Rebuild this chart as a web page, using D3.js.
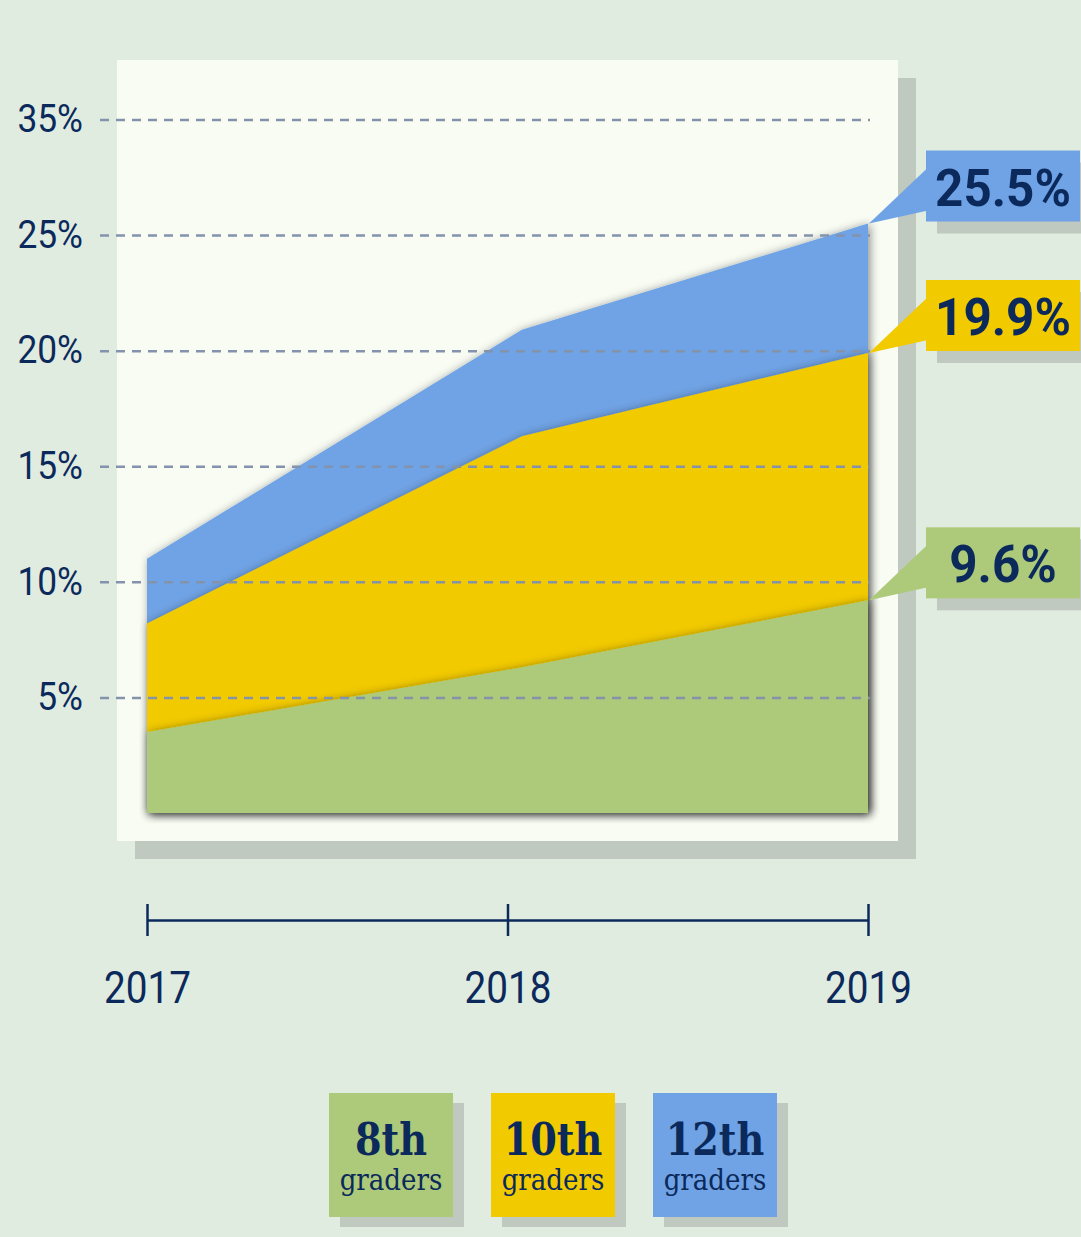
<!DOCTYPE html>
<html>
<head>
<meta charset="utf-8">
<script src="https://cdn.jsdelivr.net/npm/d3@7"></script>
<style>
  html, body { margin: 0; padding: 0; background: #e1ece1; }
  svg { display: block; }
</style>
</head>
<body>
<svg id="chart" width="1081" height="1237"></svg>
<script>
// Data
const years = [2017, 2018, 2019];
const pointYears = [2017, 2018.04, 2019];   // the middle vertex sits a touch right of the 2018 tick
const grades = ["8th", "10th", "12th"];
const eighth = [3.5, 6.3, 9.2];
const tenth = [8.2, 16.3, 19.9];
const twelfth = [11.0, 20.9, 25.5];
const calloutLabels = ["9.6%", "19.9%", "25.5%"];
const yTicks = [5, 10, 15, 20, 25, 30];
const yTickLabels = ["5%", "10%", "15%", "20%", "25%", "35%"];

const colors = ["#adc97a", "#f2ca00", "#6fa3e5"];
const navy = "#0b2a5b";
const shadowCol = "#bfc9bf";

let svg = d3.select("#chart");

// Scales
let x = d3.scaleLinear().domain([2017, 2019]).range([147, 868]);
let y = d3.scaleLinear().domain([0, 30]).range([813, 119.5]);

// Drop shadow for the areas
let defs = svg.append("defs");
let f = defs.append("filter").attr("id", "areaShadow")
    .attr("x", "-10%").attr("y", "-10%").attr("width", "120%").attr("height", "120%");
f.append("feDropShadow")
    .attr("dx", 2).attr("dy", 1)
    .attr("stdDeviation", 5)
    .attr("flood-color", "#000")
    .attr("flood-opacity", 0.45);

// Background panel and its shadow
svg.append("rect").attr("x", 135).attr("y", 78).attr("width", 781).attr("height", 781)
    .style("fill", shadowCol);
svg.append("rect").attr("x", 117).attr("y", 60).attr("width", 781).attr("height", 781)
    .style("fill", "#f8fcf3");

// Areas, drawn back to front
let series = [twelfth, tenth, eighth];
let seriesColors = [colors[2], colors[1], colors[0]];
let area = d3.area()
    .x(function(d, i) { return x(pointYears[i]); })
    .y0(y(0))
    .y1(function(d) { return y(d); });

svg.selectAll(".area")
    .data(series)
    .enter().append("path")
    .attr("class", "area")
    .attr("d", function(d) { return area(d); })
    .attr("filter", "url(#areaShadow)")
    .style("fill", function(d, i) { return seriesColors[i]; });

// Y gridlines + labels
let yAxis = d3.axisLeft(y)
    .tickValues(yTicks)
    .tickSize(-770)
    .tickPadding(17)
    .tickFormat(function(d, i) { return yTickLabels[i]; });

let yg = svg.append("g")
    .attr("transform", "translate(100,0)")
    .call(yAxis);
yg.select(".domain").remove();
yg.selectAll(".tick line")
    .style("stroke", "#8493ac")
    .style("stroke-width", 2.5)
    .style("stroke-dasharray", "9,7");
yg.selectAll(".tick text")
    .attr("x", 0)
    .attr("dy", "0.32em")
    .attr("transform", "translate(-17,0) scale(0.93,1)")
    .style("font-family", "Roboto, sans-serif")
    .style("font-size", "38px")
    .style("fill", navy);

// Bottom time axis
let xAxis = d3.axisBottom(x)
    .tickValues(years)
    .tickSizeInner(16)
    .tickSizeOuter(0)
    .tickFormat(d3.format("d"));

let xg = svg.append("g")
    .attr("transform", "translate(0,920)")
    .call(xAxis);
xg.select(".domain")
    .style("stroke", navy)
    .style("stroke-width", 2.5);
xg.selectAll(".tick line")
    .attr("y1", -16)
    .attr("y2", 16)
    .style("stroke", navy)
    .style("stroke-width", 2.5);
xg.selectAll(".tick text")
    .attr("y", 0)
    .attr("dy", 0)
    .attr("transform", "translate(0,83) scale(0.86,1)")
    .style("font-family", "Roboto, sans-serif")
    .style("font-size", "45px")
    .style("fill", navy);

// Callouts at the 2019 end
let boxX = 926, boxW = 154, boxH = 71;
let ends = [eighth, tenth, twelfth].map(function(s, i) {
    return { value: s[s.length - 1], label: calloutLabels[i], color: colors[i] };
});

let callouts = svg.selectAll(".callout")
    .data(ends)
    .enter().append("g")
    .attr("class", "callout");

callouts.append("rect")
    .attr("x", boxX + 11)
    .attr("y", function(d) { return y(d.value) - 73 + 12; })
    .attr("width", boxW)
    .attr("height", boxH)
    .style("fill", shadowCol);

callouts.append("polygon")
    .attr("points", function(d) {
        let tx = x(2019) + 1, ty = y(d.value);
        let top = ty - 73;
        return [[tx, ty], [boxX + 2, top + 17], [boxX + 2, top + 60]].join(" ");
    })
    .style("fill", function(d) { return d.color; });

callouts.append("rect")
    .attr("x", boxX)
    .attr("y", function(d) { return y(d.value) - 73; })
    .attr("width", boxW)
    .attr("height", boxH)
    .style("fill", function(d) { return d.color; });

callouts.append("text")
    .attr("transform", function(d) {
        return "translate(" + (boxX + boxW / 2) + "," + (y(d.value) - 73 + 55) + ") scale(0.95,1)";
    })
    .attr("text-anchor", "middle")
    .style("font-family", "Roboto, sans-serif")
    .style("font-weight", "bold")
    .style("font-size", "52px")
    .style("fill", navy)
    .text(function(d) { return d.label; });

// Legend
let legendX = d3.scalePoint().domain(grades).range([329, 653]);
let lg = svg.selectAll(".legend")
    .data(grades)
    .enter().append("g")
    .attr("class", "legend")
    .attr("transform", function(d) { return "translate(" + legendX(d) + ",1093)"; });

lg.append("rect")
    .attr("x", 11).attr("y", 10)
    .attr("width", 124).attr("height", 124)
    .style("fill", shadowCol);
lg.append("rect")
    .attr("x", 0).attr("y", 0)
    .attr("width", 124).attr("height", 124)
    .style("fill", function(d, i) { return colors[i]; });

lg.append("text")
    .attr("transform", "translate(62,62) scale(0.85,1)")
    .attr("text-anchor", "middle")
    .style("font-family", "'DejaVu Serif', serif")
    .style("font-weight", "bold")
    .style("font-size", "45px")
    .style("fill", navy)
    .text(function(d) { return d; });

lg.append("text")
    .attr("transform", "translate(62,97) scale(0.9,1)")
    .attr("text-anchor", "middle")
    .style("font-family", "'DejaVu Serif', serif")
    .style("font-size", "29px")
    .style("fill", navy)
    .text("graders");
</script>
</body>
</html>
